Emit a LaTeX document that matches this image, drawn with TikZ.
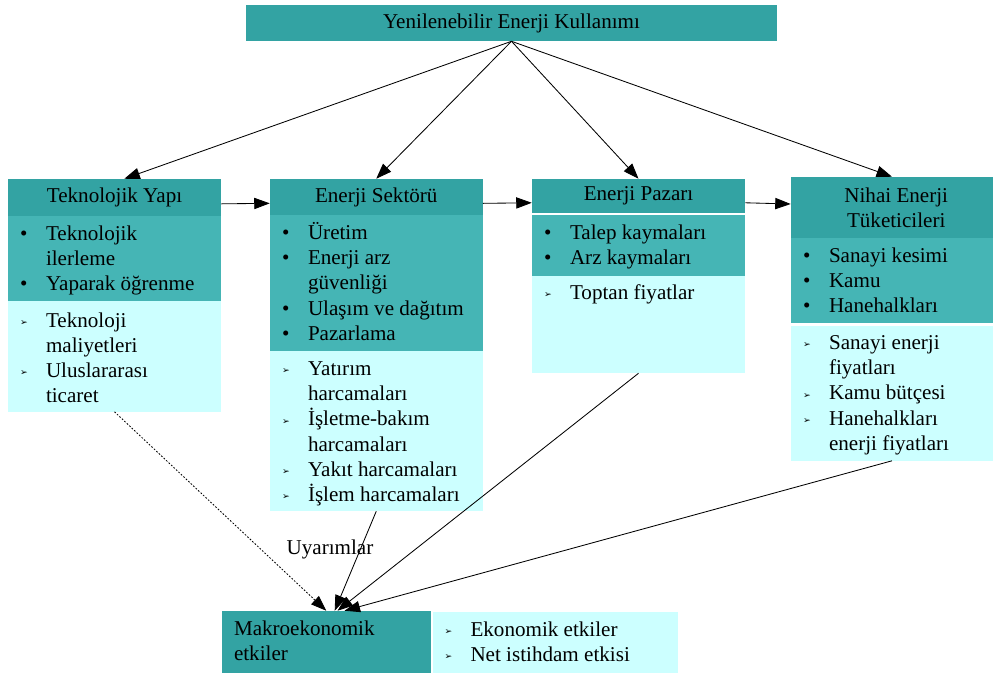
\documentclass[tikz,border=0pt]{standalone}
\usepackage{fontspec}
\setmainfont{Liberation Serif}
\newfontfamily\dejavu{DejaVu Sans}
\usetikzlibrary{arrows.meta, positioning, calc, fit}
\definecolor{tealdark}{RGB}{51,163,163}
\definecolor{tealmid}{RGB}{69,181,181}
\definecolor{cyanlight}{RGB}{204,255,255}
\newcommand{\bul}{\makebox[18.5pt][l]{\textbullet}}
\newcommand{\arrmark}{\makebox[18.5pt][l]{\raisebox{1.3pt}{\dejavu\fontsize{6.5}{6.5}\selectfont ➢}}}
\newcommand{\nob}{\makebox[18.5pt]{}}
\newcommand{\txtfont}{\fontsize{15}{17.9}\selectfont}

\begin{document}
\begin{tikzpicture}[x=0.025cm, y=-0.025cm,
  hdr/.style={fill=tealdark, inner sep=0pt},
  midsec/.style={fill=tealmid, inner sep=0pt},
  litesec/.style={fill=cyanlight, inner sep=0pt},
  hdrtxt/.style={inner sep=0pt, font=\txtfont, align=center},
  lst/.style={anchor=north west, inner sep=0pt, font=\txtfont},
  link/.style={-{Triangle[length=11pt, width=8pt]}, line width=0.6pt}]
\useasboundingbox (0,0) rectangle (993,673);
% top box
\node[hdr, fit={(246,5)(777,41)}] (yek) {};
\node[hdrtxt] (yekt) at (yek.center) {Yenilenebilir Enerji Kullanımı};
% Teknolojik Yapi
\node[hdr, fit={(8,179)(221,216)}] (tekH) {};
\node[midsec, fit={(8,216)(221,300.5)}] (tekM) {};
\node[litesec, fit={(8,300.5)(221,411.5)}] (tekL) {};
\node[hdrtxt] (tekHt) at (tekH.center) {Teknolojik Yapı};
\node[lst] (tekMt) at ([shift={(12,7)}]tekM.north west) {\begin{tabular}{@{}l@{}}
\bul Teknolojik\\ \nob ilerleme\\ \bul Yaparak öğrenme\end{tabular}};
\node[lst] (tekLt) at ([shift={(12,9)}]tekL.north west) {\begin{tabular}{@{}l@{}}
\arrmark Teknoloji\\ \nob maliyetleri\\ \arrmark Uluslararası\\ \nob ticaret\end{tabular}};
% Enerji Sektoru
\node[hdr, fit={(270,179)(482.5,215)}] (sekH) {};
\node[midsec, fit={(270,215)(482.5,351)}] (sekM) {};
\node[litesec, fit={(270,351)(482.5,511)}] (sekL) {};
\node[hdrtxt] (sekHt) at (sekH.center) {Enerji Sektörü};
\node[lst] (sekMt) at ([shift={(12,7)}]sekM.north west) {\begin{tabular}{@{}l@{}}
\bul Üretim\\ \bul Enerji arz\\ \nob güvenliği\\ \bul Ulaşım ve dağıtım\\ \bul Pazarlama\end{tabular}};
\node[lst] (sekLt) at ([shift={(12,7)}]sekL.north west) {\begin{tabular}{@{}l@{}}
\arrmark Yatırım\\ \nob harcamaları\\ \arrmark İşletme-bakım\\ \nob harcamaları\\
\arrmark Yakıt harcamaları\\ \arrmark İşlem harcamaları\end{tabular}};
% Enerji Pazari
\node[hdr, fit={(532,179)(745,212.5)}] (pazH) {};
\node[midsec, fit={(532,215)(745,276)}] (pazM) {};
\node[litesec, fit={(532,276)(745,373)}] (pazL) {};
\node[hdrtxt] (pazHt) at (pazH.center) {Enerji Pazarı};
\node[lst] (pazMt) at ([shift={(12,6.5)}]pazM.north west) {\begin{tabular}{@{}l@{}}
\bul Talep kaymaları\\ \bul Arz kaymaları\end{tabular}};
\node[lst] (pazLt) at ([shift={(12,6)}]pazL.north west) {\begin{tabular}{@{}l@{}}
\arrmark Toptan fiyatlar\end{tabular}};
% Nihai Enerji Tuketicileri
\node[hdr, fit={(791,177)(993,238)}] (tukH) {};
\node[midsec, fit={(791,238)(993,323)}] (tukM) {};
\node[litesec, fit={(791,326)(993,460.5)}] (tukL) {};
\node[hdrtxt] (tukHt) at ([xshift=3pt]tukH.center) {Nihai Enerji\\ Tüketicileri};
\node[lst] (tukMt) at ([shift={(12,7)}]tukM.north west) {\begin{tabular}{@{}l@{}}
\bul Sanayi kesimi\\ \bul Kamu\\ \bul Hanehalkları\end{tabular}};
\node[lst] (tukLt) at ([shift={(12,6)}]tukL.north west) {\begin{tabular}{@{}l@{}}
\arrmark Sanayi enerji\\ \nob fiyatları\\ \arrmark Kamu bütçesi\\ \arrmark Hanehalkları\\ \nob enerji fiyatları\end{tabular}};
% Makroekonomik etkiler
\node[hdr, fit={(222,611)(430.5,673)}] (makro) {};
\node[litesec, fit={(432.5,612)(677.5,673)}] (etki) {};
\node[lst] (makrot) at ([shift={(12,7)}]makro.north west) {\begin{tabular}{@{}l@{}}
Makroekonomik\\ etkiler\end{tabular}};
\node[lst] (etkit) at ([shift={(12,6.5)}]etki.north west) {\begin{tabular}{@{}l@{}}
\arrmark Ekonomik etkiler\\ \arrmark Net istihdam etkisi\end{tabular}};
\node[font=\txtfont] (uyar) at (330,549) {Uyarımlar};
% connectors
\draw[link] (yek.south) -- ([xshift=7pt]tekH.north);
\draw[link] (yek.south) -- (sekH.north);
\draw[link] (yek.south) -- (pazH.north);
\draw[link] (yek.south) -- (tukH.north);
\draw[link] ([yshift=-4.5pt]tekH.east) -- ([yshift=-4.5pt]sekH.west);
\draw[link] ([yshift=-4.5pt]sekH.east) -- ([yshift=-5pt]pazH.west);
\draw[link] ([yshift=-5pt]pazH.east) -- ([yshift=2.5pt]tukH.west);
\draw[link, dash pattern=on 1.2pt off 1.2pt] (tekL.south) -- (makro.north);
\draw[link] (sekL.south) -- ([xshift=6pt]makro.north);
\draw[link] (pazL.south) -- ([xshift=8pt]makro.north);
\draw[link] (tukL.south) -- ([xshift=13pt]makro.north);
\end{tikzpicture}
\end{document}
